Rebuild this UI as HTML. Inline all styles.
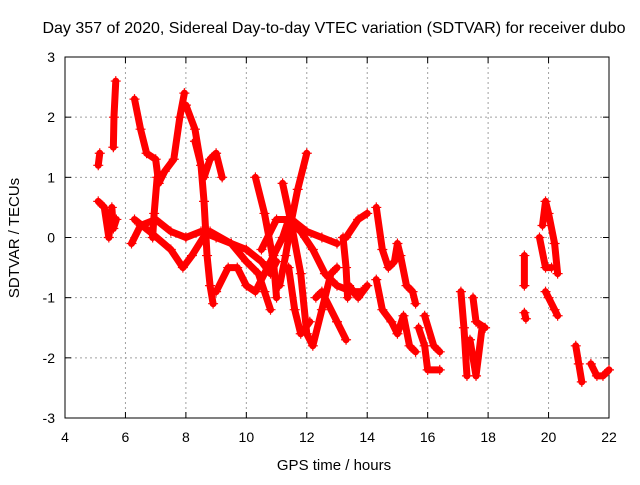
<!DOCTYPE html>
<html><head><meta charset="utf-8"><style>
body{margin:0;background:#fff}
svg text{font-family:"Liberation Sans",sans-serif;fill:#000}
</style></head><body>
<svg id="chart" width="640" height="480" xmlns="http://www.w3.org/2000/svg">
<text x="334" y="33" font-size="16" text-anchor="middle">Day 357 of 2020, Sidereal Day-to-day VTEC variation (SDTVAR) for receiver dubo</text>
<g id="grid"></g>
<g id="axes"></g>
<g id="marks"></g>
<text x="334" y="470" font-size="15" text-anchor="middle">GPS time / hours</text>
<text transform="translate(19,238) rotate(-90)" font-size="15" text-anchor="middle">SDTVAR / TECUs</text>
</svg>
<script>
const xTicks=[4,6,8,10,12,14,16,18,20,22];
const yTicks=[-3,-2,-1,0,1,2,3];
const tracks=[
[[5.1,1.2],[5.15,1.4]],
[[5.6,1.5],[5.62,2.0],[5.68,2.6]],
[[5.1,0.6],[5.3,0.5],[5.45,0.0],[5.55,0.5],[5.6,0.15],[5.7,0.3]],
[[6.3,2.3],[6.5,1.8],[6.7,1.4],[7.0,1.3],[7.1,0.9],[7.3,1.1],[7.6,1.3],[7.8,2.0],[7.95,2.4]],
[[7.05,1.0],[6.95,0.4],[6.9,0.0]],
[[8.0,2.2],[8.3,1.8],[8.5,1.2],[8.6,0.6],[8.7,-0.3],[8.8,-0.8],[8.9,-1.1]],
[[8.3,1.6],[8.6,1.0],[8.8,1.3],[9.0,1.4],[9.2,1.0]],
[[6.2,-0.1],[6.5,0.2],[7.0,0.3],[7.5,0.1],[8.0,0.0],[8.5,0.1],[9.0,0.0],[9.5,-0.1],[10.0,-0.2],[10.5,-0.4],[10.8,-0.6],[11.0,-0.4]],
[[6.3,0.3],[6.8,0.1],[7.5,-0.2],[7.9,-0.5],[8.2,-0.3],[8.7,0.1]],
[[9.0,-0.9],[9.4,-0.5],[9.7,-0.5],[10.0,-0.8],[10.3,-0.9],[10.6,-0.6],[10.9,-0.3],[11.2,0.0],[11.4,0.3],[11.8,0.1],[12.2,-0.2],[12.6,-0.6],[13.0,-0.8],[13.5,-0.9],[13.8,-0.9]],
[[8.8,0.1],[9.5,-0.1],[10.0,-0.4],[10.4,-0.6],[10.6,-0.9],[10.8,-1.2]],
[[10.3,1.0],[10.6,0.4],[10.9,-0.4],[11.0,-1.0]],
[[11.2,0.9],[11.5,0.2],[11.8,-0.6],[12.0,-1.6],[12.2,-1.8],[12.5,-1.2],[12.8,-0.6],[13.0,-0.5]],
[[12.0,1.4],[11.7,0.8],[11.5,0.3],[11.3,-0.3],[11.1,-0.8]],
[[10.5,-0.2],[11.0,0.3],[11.5,0.3],[12.0,0.1],[12.5,0.0],[13.0,-0.1]],
[[11.4,-0.5],[11.6,-1.2],[11.8,-1.6],[12.1,-1.4]],
[[12.3,-1.0],[12.5,-0.9],[13.0,-1.4],[13.3,-1.7]],
[[13.2,0.0],[13.3,-0.5],[13.35,-1.0]],
[[13.3,0.0],[13.7,0.3],[14.0,0.4]],
[[13.4,-0.8],[13.7,-1.0],[14.0,-0.8]],
[[14.3,0.5],[14.5,-0.2],[14.7,-0.5],[14.9,-0.4],[15.0,-0.1],[15.1,-0.3],[15.3,-0.8],[15.5,-0.9],[15.6,-1.1]],
[[14.3,-0.7],[14.5,-1.2],[14.8,-1.4],[15.0,-1.6],[15.2,-1.3],[15.4,-1.8],[15.6,-1.9]],
[[15.7,-1.5],[15.9,-1.8],[16.0,-2.2],[16.4,-2.2]],
[[15.9,-1.3],[16.2,-1.8],[16.4,-1.9]],
[[17.1,-0.9],[17.2,-1.5],[17.3,-2.3]],
[[17.4,-1.7],[17.6,-2.3],[17.8,-1.5]],
[[17.5,-1.0],[17.6,-1.4],[17.9,-1.5]],
[[19.2,-0.3],[19.2,-0.8]],
[[19.2,-1.25],[19.25,-1.35]],
[[19.8,0.2],[19.9,0.6],[20.0,0.4],[20.2,-0.1],[20.3,-0.6]],
[[19.7,0.0],[19.9,-0.5],[20.1,-0.5]],
[[19.9,-0.9],[20.0,-1.0],[20.2,-1.2],[20.3,-1.3]],
[[20.9,-1.8],[21.0,-2.1],[21.1,-2.4]],
[[21.4,-2.1],[21.6,-2.3],[21.8,-2.3],[22.0,-2.2]]
];
const X0=65,X1=609,Y0=418,Y1=57;
const sx=t=>X0+(t-4)/18*(X1-X0);
const sy=v=>Y0-(v+3)/6*(Y0-Y1);
const NS="http://www.w3.org/2000/svg";
function mk(tag,attrs,parent){const e=document.createElementNS(NS,tag);for(const k in attrs)e.setAttribute(k,attrs[k]);parent.appendChild(e);return e;}
const grid=document.getElementById('grid'),axes=document.getElementById('axes'),marks=document.getElementById('marks');
xTicks.forEach(t=>{
 if(t>4&&t<22){const l=mk('line',{x1:sx(t),x2:sx(t),y1:Y1,y2:Y0,stroke:'#a0a0a0','stroke-dasharray':'2,3'},grid);
 
 }
 const tx=mk('text',{x:sx(t),y:Y0+24,'font-size':'14','text-anchor':'middle'},axes);tx.textContent=t;
 
 
 mk('line',{x1:sx(t),x2:sx(t),y1:Y0,y2:Y0-6,stroke:'#000'},axes);
 mk('line',{x1:sx(t),x2:sx(t),y1:Y1,y2:Y1+6,stroke:'#000'},axes);
});
yTicks.forEach(v=>{
 if(v>-3&&v<3){const l=mk('line',{x1:X0,x2:X1,y1:sy(v),y2:sy(v),stroke:'#a0a0a0','stroke-dasharray':'2,3'},grid);
 
 }
 const tx=mk('text',{x:X0-10,y:sy(v)+5,'font-size':'14','text-anchor':'end'},axes);tx.textContent=v;
 
 
 mk('line',{x1:X0,x2:X0+6,y1:sy(v),y2:sy(v),stroke:'#000'},axes);
 mk('line',{x1:X1,x2:X1-6,y1:sy(v),y2:sy(v),stroke:'#000'},axes);
});
const fr=mk('rect',{x:X0,y:Y1,width:X1-X0,height:Y0-Y1,fill:'none',stroke:'#000'},axes);


tracks.forEach(tr=>{
 const pl=mk('polyline',{points:tr.map(p=>sx(p[0])+','+sy(p[1])).join(' '),fill:'none',stroke:'#f00','stroke-width':'7','stroke-linejoin':'round','stroke-linecap':'round'},marks);
 
 
 tr.forEach(p=>{const x=sx(p[0]),y=sy(p[1]);
  const m=mk('path',{d:`M${x-5},${y}h10M${x},${y-5}v10`,stroke:'#f00','stroke-width':'1.2'},marks);
  
  
 });
});
</script>
</body></html>
